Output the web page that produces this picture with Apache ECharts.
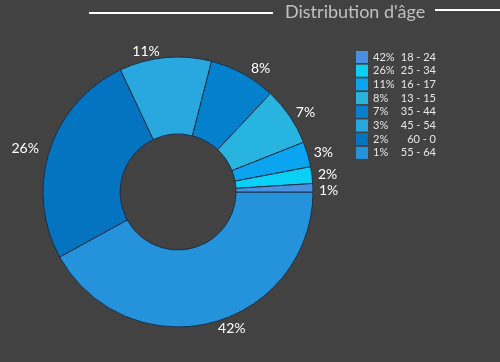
<!DOCTYPE html>
<html>
<head>
<meta charset="utf-8">
<script src="https://cdn.jsdelivr.net/npm/echarts@6/dist/echarts.min.js"></script>
<style>
html,body{margin:0;padding:0;background:#424242;}
#chart{width:500px;height:362px;}
</style>
</head>
<body>
<div id="chart"></div>
<script>
// Data
var titleText = "Distribution d'âge";
var percents = [42, 26, 11, 8, 7, 3, 2, 1];
var ageRanges = ['18 - 24', '25 - 34', '16 - 17', '13 - 15', '35 - 44', '45 - 54', '60 - 0', '55 - 64'];
var sliceColors = ['#2592dc', '#0473c0', '#29a8e0', '#0580cc', '#27b4de', '#0aa4f0', '#0ad0f5', '#4a90e2'];

var fontFamily = 'Lato, "Noto Sans", sans-serif';
var n = percents.length;

// Legend row i displays percents[i] / ageRanges[i], with the swatch colour of slice (n-1-i), as in the reference
var pieData = percents.map(function (v, j) {
  return { value: v, name: ageRanges[n - 1 - j], itemStyle: { color: sliceColors[j] } };
});
var legendNames = ageRanges.slice();

var chart = echarts.init(document.getElementById('chart'));
chart.setOption({
  backgroundColor: '#424242',
  animation: false,
  title: {
    text: titleText,
    left: 280, top: -2,
    textStyle: { color: '#c0c0c0', fontSize: 18, fontWeight: 'normal', fontFamily: fontFamily }
  },
  graphic: [
    { type: 'line', shape: { x1: 89, y1: 13, x2: 273, y2: 13 }, style: { stroke: '#ffffff', lineWidth: 2 } },
    { type: 'line', shape: { x1: 435, y1: 10, x2: 500, y2: 10 }, style: { stroke: '#ffffff', lineWidth: 2 } }
  ],
  legend: {
    orient: 'vertical',
    left: 351, top: 46,
    itemWidth: 12, itemHeight: 12, itemGap: 1.7,
    icon: 'rect',
    itemStyle: { borderWidth: 0 },
    data: legendNames,
    formatter: function (name) {
      var i = legendNames.indexOf(name);
      return '{p|' + percents[i] + '%}{a|' + ageRanges[i] + '}';
    },
    textStyle: {
      color: '#e6e6e6', fontFamily: fontFamily, fontSize: 11,
      rich: {
        p: { width: 29, color: '#e6e6e6', fontSize: 11, fontFamily: fontFamily },
        a: { width: 34, align: 'right', color: '#e6e6e6', fontSize: 11, fontFamily: fontFamily }
      }
    }
  },
  series: [{
    type: 'pie',
    center: [178, 192],
    radius: [58, 135],
    startAngle: 0,
    clockwise: true,
    avoidLabelOverlap: true,
    itemStyle: { borderColor: '#1d3048', borderWidth: 1 },
    label: {
      show: true,
      position: 'outside',
      formatter: '{c}%',
      color: '#ffffff',
      fontSize: 14,
      fontFamily: fontFamily
    },
    labelLine: { show: false, length: 6, length2: 0 },
    emphasis: { disabled: true },
    data: pieData
  }]
});
</script>
</body>
</html>
